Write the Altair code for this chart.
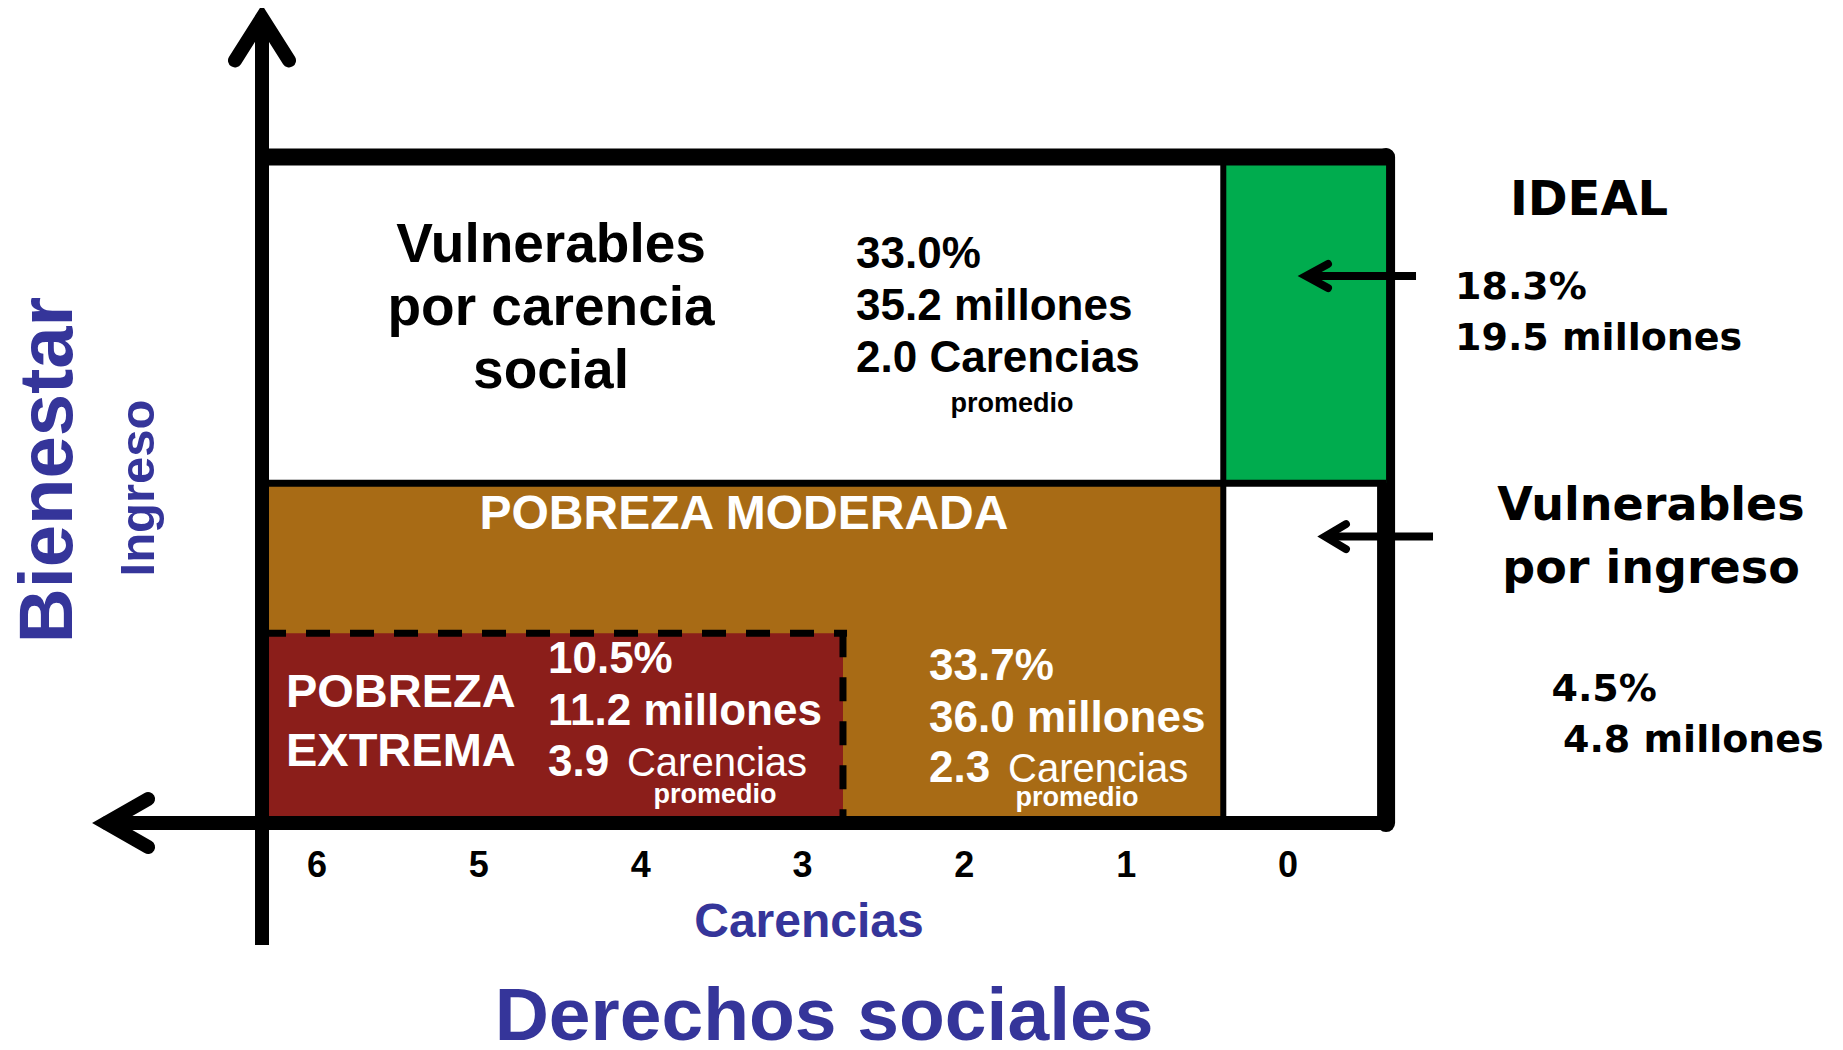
import altair as alt
import pandas as pd

# ---------------------------------------------------------------
# DATA
# x axis: number of "carencias" (social deprivations), 6 ... 0
# y axis: income / well-being index (0 = poverty line, 10 = top)
# ---------------------------------------------------------------
carencias_ticks = [6, 5, 4, 3, 2, 1, 0]

# population groups and their figures
group_names = ["Vulnerables por carencia social", "Pobreza extrema",
               "Pobreza moderada", "Ideal", "Vulnerables por ingreso"]
group_pct = [33.0, 10.5, 33.7, 18.3, 4.5]          # % of population
group_millones = [35.2, 11.2, 36.0, 19.5, 4.8]     # millions of people
group_carencias = [2.0, 3.9, 2.3, None, None]      # average deprivations

# thresholds of the well-being space (chart units)
axis_carencias = 6.34      # position of vertical (Bienestar) axis
threshold_carencias = 0.40 # 0 carencias boundary
extreme_carencias = 2.75   # extreme-poverty boundary
right_edge = -0.606
income_line = 5.1          # bienestar line
extreme_income = 2.85      # minimum well-being line
top_income = 10.0

# filled regions
region_c1 = [axis_carencias, axis_carencias]
region_c2 = [threshold_carencias, extreme_carencias]
region_v1 = [0.0, 0.0]
region_v2 = [income_line, extreme_income]
region_fill = ["#A86B15", "#8B1E1A"]
ideal_fill = "#00AC4E"
BLUE = "#35359A"

X_DOMAIN = [-3.380, 7.9096]
Y_DOMAIN = [-3.288, 12.237]


def X(f):
    return alt.X(f, type="quantitative", axis=None,
                 scale=alt.Scale(domain=X_DOMAIN, reverse=True, nice=False, zero=False))


def Y(f):
    return alt.Y(f, type="quantitative", axis=None,
                 scale=alt.Scale(domain=Y_DOMAIN, nice=False, zero=False))


def rect_layer(df):
    return alt.Chart(df).mark_rect().encode(
        x=X("c1"), x2="c2", y=Y("v1"), y2="v2",
        color=alt.Color("fill:N", scale=None, legend=None))


def rule_layer(df, cap, dash=None):
    kw = dict(color="black", strokeCap=cap)
    if dash:
        kw["strokeDash"] = dash
    return alt.Chart(df).mark_rule(**kw).encode(
        x=X("c1"), x2="c2", y=Y("v1"), y2="v2",
        strokeWidth=alt.StrokeWidth("w:Q", scale=None, legend=None))


def text_layer(df, font, weight, align, angle=0):
    kw = dict(font=font, fontWeight=weight, align=align, baseline="alphabetic")
    if angle:
        kw["angle"] = angle
    return alt.Chart(df).mark_text(**kw).encode(
        x=X("c"), y=Y("v"), text="t:N",
        size=alt.Size("s:Q", scale=None, legend=None),
        color=alt.Color("col:N", scale=None, legend=None))


# ---------------- regions ----------------
regions = pd.DataFrame({"c1": region_c1, "c2": region_c2,
                        "v1": region_v1, "v2": region_v2, "fill": region_fill})
ideal = pd.DataFrame({"c1": [threshold_carencias], "c2": [right_edge],
                      "v1": [income_line], "v2": [top_income], "fill": [ideal_fill]})

# ---------------- lines ----------------
right_border = pd.DataFrame({"c1": [right_edge], "c2": [right_edge],
                             "v1": [top_income], "v2": [0.0], "w": [18]})
round_lines = pd.DataFrame({
    "c1": [6.30, 7.30],
    "c2": [right_edge, right_edge],
    "v1": [top_income, 0.0],
    "v2": [top_income, 0.0],
    "w": [17, 14]})
butt_lines = pd.DataFrame({
    "c1": [axis_carencias, axis_carencias, threshold_carencias, -0.791, -0.896],
    "c2": [axis_carencias, right_edge, threshold_carencias, -0.111, -0.229],
    "v1": [12.09, income_line, top_income, 8.213, 4.30],
    "v2": [-1.83, income_line, 0.0, 8.213, 4.30],
    "w": [14, 7, 6, 8, 8]})
dashed = pd.DataFrame({
    "c1": [axis_carencias, extreme_carencias],
    "c2": [2.725, extreme_carencias],
    "v1": [extreme_income, extreme_income],
    "v2": [extreme_income, 0.0],
    "w": [7, 7]})

# arrow heads (polylines)
heads = pd.DataFrame({
    "id": ["up"] * 3 + ["left"] * 3 + ["a1"] * 3 + ["a2"] * 3,
    "o": [0, 1, 2] * 4,
    "c": [6.507, 6.34, 6.173,
          7.044, 7.303, 7.044,
          -0.247, -0.111, -0.247,
          -0.358, -0.229, -0.358],
    "v": [11.45, 12.09, 11.45,
          0.36, 0.0, -0.36,
          8.393, 8.213, 8.033,
          4.488, 4.30, 4.112],
    "w": [14] * 6 + [8] * 6})
heads_layer = alt.Chart(heads).mark_line(color="black", strokeCap="round",
                                         strokeJoin="miter").encode(
    x=X("c"), y=Y("v"), detail="id:N", order="o:Q",
    strokeWidth=alt.StrokeWidth("w:Q", scale=None, legend=None))

# ---------------- texts ----------------
def fmt_pct(p):
    return f"{p:.1f}%"


def fmt_mill(m):
    return f"{m:.1f} millones"


W, K = "#FFFFFF", "#000000"

# Liberation Sans bold, centered
t_center = pd.DataFrame({
    "t": ["Vulnerables", "por carencia", "social", "POBREZA MODERADA",
          "promedio", "promedio", "promedio", "Carencias", "Derechos sociales"]
         + [str(v) for v in carencias_ticks],
    "c": [4.554, 4.554, 4.554, 3.362, 1.705, 3.541, 1.304, 2.960, 2.867]
         + carencias_ticks,
    "v": [8.423, 7.477, 6.532, 4.414, 6.171, 0.30, 0.255, -1.712, -3.258]
         + [-0.811] * len(carencias_ticks),
    "s": [55, 55, 55, 48, 27, 27, 27, 48, 75] + [36] * len(carencias_ticks),
    "col": [K, K, K, W, K, W, W, BLUE, BLUE] + [K] * len(carencias_ticks)})

# Liberation Sans bold, left aligned
t_left = pd.DataFrame({
    "t": [fmt_pct(group_pct[0]), fmt_mill(group_millones[0]),
          f"{group_carencias[0]:.1f} Carencias",
          "POBREZA", "EXTREMA",
          fmt_pct(group_pct[1]), fmt_mill(group_millones[1]), f"{group_carencias[1]:.1f}",
          fmt_pct(group_pct[2]), fmt_mill(group_millones[2]), f"{group_carencias[2]:.1f}"],
    "c": [2.669, 2.669, 2.669, 6.192, 6.192, 4.573, 4.573, 4.573, 2.218, 2.218, 2.218],
    "v": [8.333, 7.553, 6.772, 1.742, 0.856, 2.252, 1.471, 0.706, 2.147, 1.366, 0.616],
    "s": [44, 44, 44, 47, 47, 44, 44, 44, 44, 44, 44],
    "col": [K, K, K, W, W, W, W, W, W, W, W]})

# Liberation Sans regular, left aligned
t_light = pd.DataFrame({"t": ["Carencias", "Carencias"],
                        "c": [4.085, 1.730], "v": [0.706, 0.616],
                        "s": [40, 40], "col": [W, W]})

# DejaVu Sans bold, centered
t_dv_center = pd.DataFrame({"t": ["IDEAL", "Vulnerables", "por ingreso"],
                            "c": [-1.860, -2.243, -2.243],
                            "v": [9.129, 4.557, 3.604],
                            "s": [48, 46, 46], "col": [K, K, K]})

# DejaVu Sans bold, left aligned
t_dv_left = pd.DataFrame({
    "t": [fmt_pct(group_pct[3]), fmt_mill(group_millones[3]),
          fmt_pct(group_pct[4]), fmt_mill(group_millones[4])],
    "c": [-1.032, -1.032, -1.628, -1.699],
    "v": [7.874, 7.102, 1.839, 1.066],
    "s": [38, 38, 38, 38], "col": [K, K, K, K]})

# rotated axis titles
t_rot = pd.DataFrame({"t": ["Bienestar", "Ingreso"],
                      "c": [7.514, 7.007], "v": [5.300, 5.030],
                      "s": [76, 49], "col": [BLUE, BLUE]})

chart = alt.layer(
    rect_layer(regions),
    rule_layer(right_border, "round"),
    rect_layer(ideal),
    rule_layer(butt_lines, "butt"),
    rule_layer(round_lines, "round"),
    rule_layer(dashed, "butt", dash=[24, 20]),
    heads_layer,
    text_layer(t_center, "Liberation Sans", "bold", "center"),
    text_layer(t_left, "Liberation Sans", "bold", "left"),
    text_layer(t_light, "Liberation Sans", "normal", "left"),
    text_layer(t_dv_center, "DejaVu Sans", "bold", "center"),
    text_layer(t_dv_left, "DejaVu Sans", "bold", "left"),
    text_layer(t_rot, "Liberation Sans", "bold", "center", angle=270),
).properties(
    width=1827, height=1034,
    autosize=alt.AutoSizeParams(type="none"),
    padding=0, background="white",
).configure_view(stroke=None)

chart.save("out.html", embed_options={"renderer": "svg", "actions": False})
